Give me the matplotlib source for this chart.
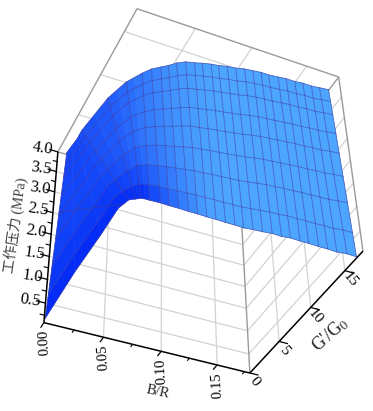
import numpy as np
import matplotlib
matplotlib.use('Agg')
import matplotlib.pyplot as plt
from matplotlib.collections import PolyCollection

plt.rcParams['font.family'] = ['Liberation Serif', 'Noto Sans CJK SC']
plt.rcParams['mathtext.fontset'] = 'stix'

# axis ranges and ticks
B_MAX, G_MAX, P_MIN, P_MAX = 0.18, 17.5, 0.1, 4.0
b_ticks = [0.00, 0.05, 0.10, 0.15]
g_ticks = [0, 5, 10, 15]
p_ticks = [0.5, 1.0, 1.5, 2.0, 2.5, 3.0, 3.5, 4.0]

# near edge of the surface
b_front = [-0.001, 0.025, 0.045, 0.058, 0.067, 0.070, 0.073, 0.075, 0.077, 0.0805, 0.084, 0.093, 0.098, 0.104, 0.110, 0.115, 0.120, 0.125,
           0.130, 0.135, 0.139, 0.143, 0.147, 0.151, 0.155, 0.158, 0.162, 0.165, 0.169, 0.172, 0.175, 0.178, 0.181]
g_front = [0.6, -0.7, -0.4, 0.2, 0.3, 0.35, 0.4, 0.55, 0.7, 0.85, 1.0, 1.3, 2.0, 2.7, 3.4, 4.1, 4.8, 5.5,
           6.2, 6.9, 7.6, 8.4, 9.2, 10.0, 10.7, 11.5, 12.2, 12.9, 13.6, 14.3, 15.0, 15.8, 16.5]
p_front = [0.10, 1.43, 2.36, 3.00, 3.25, 3.28, 3.30, 3.30, 3.30, 3.28, 3.25, 3.20, 3.05, 2.91, 2.76, 2.62, 2.47, 2.33,
           2.18, 2.04, 1.89, 1.75, 1.60, 1.46, 1.31, 1.17, 1.02, 0.88, 0.73, 0.59, 0.44, 0.30, 0.15]
# far edge of the surface
b_back = [0.006, 0.007, 0.008, 0.008, 0.008, 0.011, 0.014, 0.0175, 0.021, 0.025, 0.029, 0.034, 0.040, 0.045, 0.050, 0.056, 0.063, 0.069,
          0.076, 0.082, 0.089, 0.096, 0.103, 0.110, 0.117, 0.124, 0.132, 0.139, 0.147, 0.154, 0.162, 0.169, 0.177]
g_back = [0.7, 1.7, 2.6, 3.3, 3.8, 6.0, 8.2, 9.4, 10.5, 11.2, 11.9, 12.6, 13.1, 13.5, 14.0, 14.4, 14.6, 14.8,
          15.0, 15.1, 15.3, 15.4, 15.6, 15.7, 15.8, 15.8, 15.9, 16.0, 16.0, 16.1, 16.1, 16.2, 16.3]
p_back = 3.9
# mesh rows between the two edges
rows = [0, 0.13, 0.295, 0.45, 0.59, 0.712, 0.834, 0.92, 1]
# brightness along the surface, and darkening at the fold
light = [0.25, 0.25, 0.26, 0.28, 0.33, 0.38, 0.43, 0.48, 0.54, 0.60, 0.66, 0.72, 0.78, 0.84, 0.88, 0.92, 0.95, 0.97,
         1, 1, 1, 1, 1, 1, 1, 1, 1, 1, 1, 1, 1, 1, 1]
fan = [1, 1, 1, 1, 1, 1, 1, 1, 1, 1, 0.8, 0.6, 0.45, 0.3, 0.2, 0.1, 0, 0,
       0, 0, 0, 0, 0, 0, 0, 0, 0, 0, 0, 0, 0, 0, 0]
fold = [0.0, 0.4, 0.75, 0.95, 1, 1, 1, 1, 1]
hidden_lines = [1, 2, 3, 5, 7, 9]
# crease running off the ridge
crease_b = [0.062, 0.005]
crease_g = [0.25, 0]
crease_p = [3.12, 2.55]

# camera: where known box points land on the 373x411 image
camera = [(0, 0, P_MIN, 44, 323), (B_MAX, 0, P_MIN, 250, 372), (B_MAX, G_MAX, P_MIN, 363, 250), (0, 0, P_MAX, 57, 152),
          (B_MAX, G_MAX, P_MAX, 339, 77), (0, G_MAX, P_MAX, 137, 9), (.05, 0, P_MIN, 103, 338), (.10, 0, P_MIN, 162, 352),
          (.15, 0, P_MIN, 217, 365), (B_MAX, 5, P_MIN, 279, 342), (B_MAX, 10, P_MIN, 310, 308), (B_MAX, 15, P_MIN, 345, 271),
          (0, 0, .5, 45, 303), (0, 0, 1, 47.5, 278), (0, 0, 2, 52, 234), (0, 0, 3, 55, 192)]
A = []
for b, g, p, u, v in camera:
    X = [b / B_MAX, g / G_MAX, p / P_MAX, 1]
    A.append(X + [0, 0, 0, 0] + [-u * x for x in X])
    A.append([0, 0, 0, 0] + X + [-v * x for x in X])
M = np.linalg.svd(np.array(A))[2][-1].reshape(3, 4)


def proj(b, g, p):
    X = np.stack([np.asarray(b, float) / B_MAX, np.asarray(g, float) / G_MAX,
                  np.asarray(p, float) / P_MAX, np.ones_like(np.asarray(b, float))], axis=-1)
    h = X @ M.T
    return h[..., 0] / h[..., 2], h[..., 1] / h[..., 2]


def line3(ax, b, g, p, color, lw, z=1):
    x, y = proj(b, g, p)
    ax.plot(x, y, color=color, lw=lw, zorder=z, solid_capstyle='butt')


fig = plt.figure(figsize=(3.73, 4.11), dpi=100)
ax = fig.add_axes([0, 0, 1, 1])
ax.set_xlim(0, 373)
ax.set_ylim(411, 0)
ax.axis('off')

# grid on the three far faces
GRID = '#d2d2d2'
BOX = '#9a9a9a'
for b in b_ticks[1:]:
    line3(ax, [b, b], [0, 0], [P_MIN, P_MAX], GRID, 0.9)
    line3(ax, [b, b], [0, G_MAX], [P_MAX, P_MAX], GRID, 0.9)
for g in g_ticks[1:]:
    line3(ax, [B_MAX, B_MAX], [g, g], [P_MIN, P_MAX], GRID, 0.9)
    line3(ax, [0, B_MAX], [g, g], [P_MAX, P_MAX], GRID, 0.9)
for p in p_ticks[:-1]:
    line3(ax, [0, B_MAX], [0, 0], [p, p], GRID, 0.9)
    line3(ax, [B_MAX, B_MAX], [0, G_MAX], [p, p], GRID, 0.9)

# box outline
line3(ax, [B_MAX, B_MAX], [0, 0], [P_MIN, P_MAX], BOX, 1.0, 2)
line3(ax, [B_MAX, B_MAX], [G_MAX, G_MAX], [P_MIN, P_MAX], BOX, 1.0, 2)
line3(ax, [0, 0, B_MAX, B_MAX, 0], [0, G_MAX, G_MAX, 0, 0], [P_MAX] * 5, BOX, 1.0, 2)

# surface
w = np.array(rows)[:, None]
sb = np.array(b_front) * (1 - w) + np.array(b_back) * w
sg = np.array(g_front) * (1 - w) + np.array(g_back) * w
sp = np.array(p_front) * (1 - w) + p_back * w
sx, sy = proj(sb, sg, sp)
dark = np.array([0, 38, 245]) / 255
bright = np.array([76, 165, 255]) / 255
polys, cols = [], []
for j in range(len(rows) - 1):
    for i in range(len(b_front) - 1):
        polys.append([(sx[j, i], sy[j, i]), (sx[j, i + 1], sy[j, i + 1]),
                      (sx[j + 1, i + 1], sy[j + 1, i + 1]), (sx[j + 1, i], sy[j + 1, i])])
        t = 0.5 * (light[i] + light[i + 1])
        f = 0.5 * (fan[i] + fan[i + 1])
        t *= 1 - f * (1 - 0.5 * (fold[j] + fold[j + 1]))
        cols.append(dark + (bright - dark) * t)
ax.add_collection(PolyCollection(polys, facecolors=cols, edgecolors=cols, linewidths=0.4, zorder=3))
MESH = (0.25, 0.22, 0.62, 0.6)
for j in range(len(rows)):
    ax.plot(sx[j], sy[j], color=MESH, lw=0.6, zorder=4)
for i in range(len(b_front)):
    if i not in hidden_lines:
        ax.plot(sx[:, i], sy[:, i], color=MESH, lw=0.6, zorder=4)
cx, cy = proj(crease_b, crease_g, crease_p)
ax.plot(cx, cy, color=MESH, lw=0.7, zorder=4)

# axis lines and ticks
line3(ax, [0, B_MAX], [0, 0], [P_MIN, P_MIN], 'black', 1.1, 5)
line3(ax, [B_MAX, B_MAX], [0, G_MAX], [P_MIN, P_MIN], 'black', 1.1, 5)
line3(ax, [0, 0], [0, 0], [P_MIN, P_MAX], 'black', 1.1, 5)
for b in b_ticks:
    line3(ax, [b, b], [0, -0.75], [P_MIN, P_MIN], 'black', 0.9, 5)
    x, y = proj(b, 0, P_MIN)
    ax.text(x, y + 20, '%.2f' % b, rotation=93, fontsize=10.5, ha='center', va='center')
for b in [0.025, 0.075, 0.125, 0.175]:
    line3(ax, [b, b], [0, -0.4], [P_MIN, P_MIN], 'black', 0.8, 5)
for g in g_ticks:
    line3(ax, [B_MAX, B_MAX + 0.008], [g, g], [P_MIN, P_MIN], 'black', 0.9, 5)
    x, y = proj(B_MAX, g, P_MIN)
    ax.text(x + 5, y + 9, str(g), rotation=-50, fontsize=11, ha='center', va='center')
for p in p_ticks:
    line3(ax, [0, -0.008], [0, 0], [p, p], 'black', 0.9, 5)
    x, y = proj(0, 0, p)
    ax.text(x - 15, y - 3, '%.1f' % p, rotation=-8, fontsize=12, ha='center', va='center')
for p in [0.25, 0.75, 1.25, 1.75, 2.25, 2.75, 3.25, 3.75]:
    line3(ax, [0, -0.004], [0, 0], [p, p], 'black', 0.8, 5)

# axis titles
ax.text(15, 225, '工作压力 (MPa)', rotation=82, fontsize=10.2, color='#444444', ha='center', va='center')
ax.text(158, 392, 'B/R', rotation=-12, fontsize=10.5, color='#222222', ha='center', va='center')
ax.text(330, 335, "G'/G$_{0}$", rotation=42, fontsize=13, color='#222222', ha='center', va='center')

fig.savefig('out.png', dpi=100)
